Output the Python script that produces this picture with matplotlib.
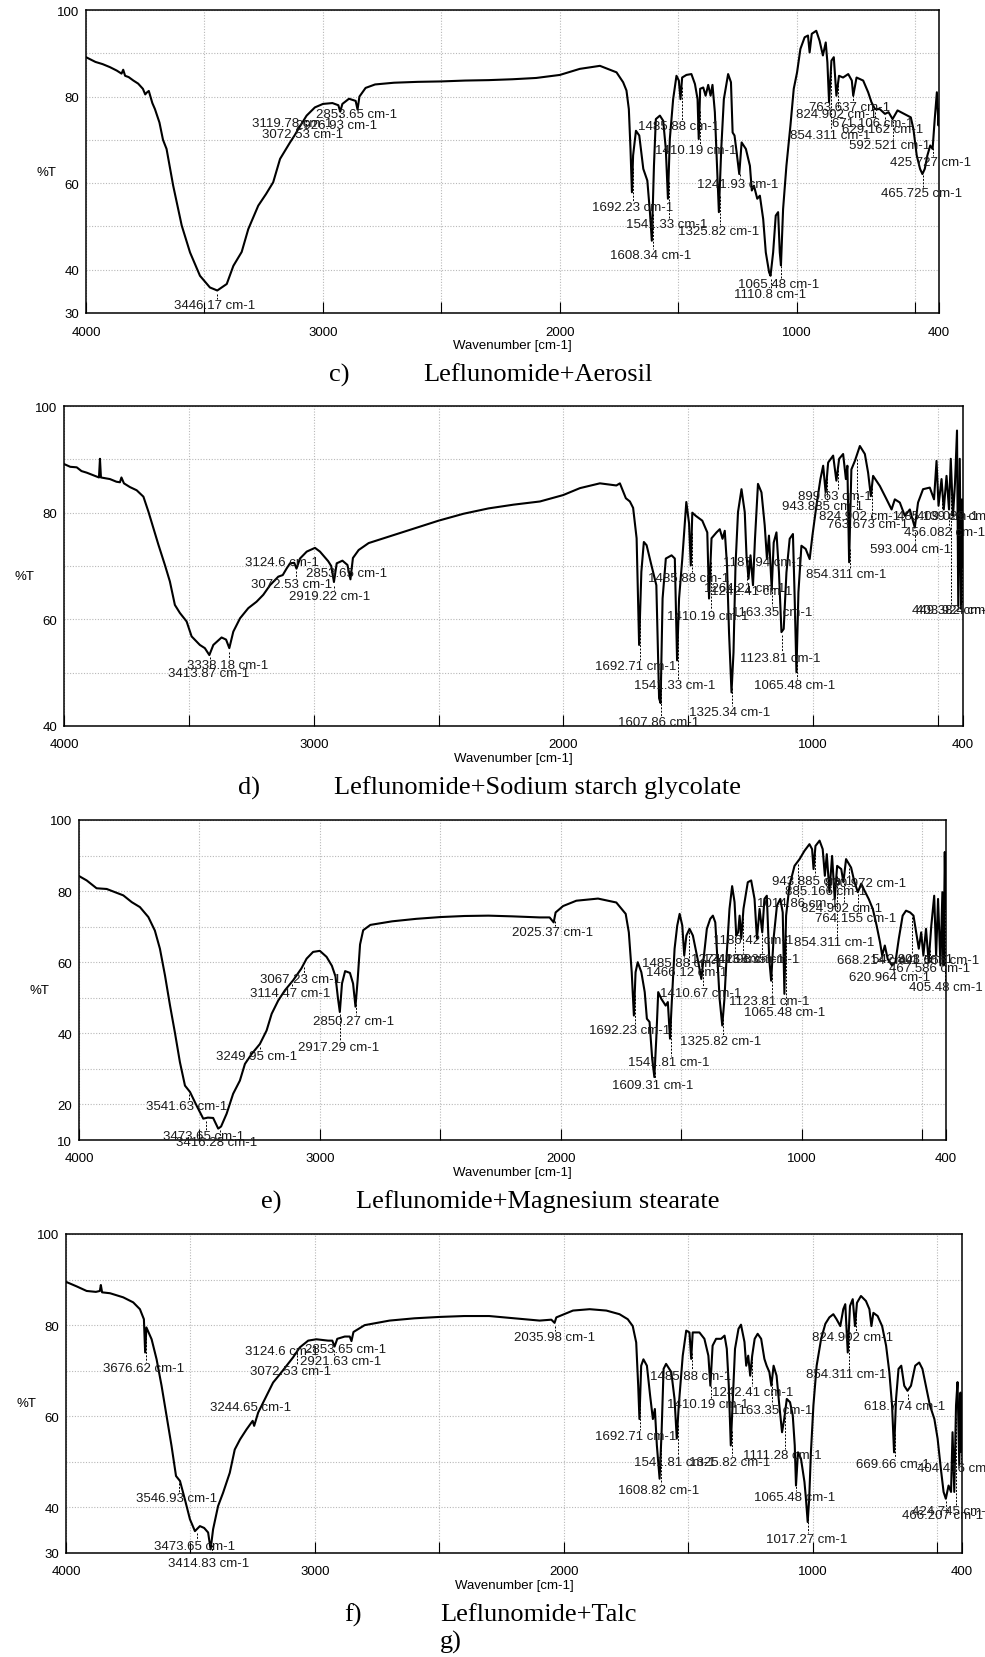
import numpy as np
import matplotlib
matplotlib.use("Agg")
import matplotlib.pyplot as plt
from matplotlib.transforms import Bbox, TransformedBbox

plt.rcParams['font.family'] = ['Liberation Sans', 'DejaVu Sans']

# ---------------- spectra (wavenumber, %T) ----------------
ir_c = [(4000, 89.1), (3960, 88.0), (3930, 87.5), (3899, 86.8), (3870, 86.0), (3850, 85.3), (3843, 86.2), (3835, 84.8),
        (3820, 84.5), (3800, 83.7), (3780, 83.0), (3760, 81.8), (3750, 80.5), (3744, 80.9), (3735, 81.3), (3720, 78.5),
        (3709, 77.1), (3690, 74.0), (3675, 70.0), (3660, 67.9), (3632, 59.4), (3596, 50.2), (3561, 44.0), (3519, 38.6),
        (3477, 35.9), (3446, 35.2), (3406, 36.7), (3378, 40.9), (3343, 44.1), (3315, 49.4), (3273, 54.8), (3240, 57.5),
        (3210, 60.2), (3181, 65.6), (3139, 69.4), (3120, 71.0), (3104, 72.5), (3069, 75.6), (3034, 77.5), (3000, 78.3),
        (2960, 78.5), (2935, 78.0), (2927, 76.5), (2918, 78.3), (2890, 79.5), (2862, 79.0), (2854, 77.0), (2846, 80.0),
        (2820, 82.0), (2780, 82.8), (2700, 83.2), (2600, 83.4), (2500, 83.5), (2400, 83.7), (2300, 83.8), (2200, 84.0),
        (2100, 84.3), (2000, 85.0), (1916, 86.4), (1831, 87.1), (1761, 85.6), (1733, 83.3), (1719, 81.4), (1709, 77.1),
        (1702, 67.9), (1696, 57.9), (1691, 66.4), (1679, 72.1), (1665, 71.0), (1648, 63.3), (1631, 60.6), (1620, 53.3),
        (1612, 46.7), (1603, 64.0), (1595, 74.8), (1578, 75.6), (1564, 74.4), (1553, 67.9), (1544, 56.4), (1536, 70.2),
        (1522, 79.4), (1508, 84.8), (1498, 83.7), (1491, 79.4), (1484, 84.4), (1466, 85.0), (1445, 85.2), (1430, 82.9),
        (1419, 79.4), (1414, 70.2), (1408, 81.8), (1395, 82.1), (1385, 80.2), (1374, 82.7), (1364, 80.2), (1356, 82.7),
        (1346, 76.4), (1339, 67.1), (1329, 53.3), (1319, 67.9), (1308, 79.4), (1290, 85.2), (1278, 83.3), (1271, 71.7),
        (1263, 71.0), (1254, 67.1), (1243, 62.1), (1233, 69.4), (1215, 67.9), (1198, 64.0), (1190, 58.3), (1181, 59.4),
        (1167, 56.4), (1156, 57.1), (1142, 51.7), (1131, 44.0), (1117, 39.4), (1111, 38.6), (1100, 44.0), (1089, 52.5),
        (1079, 53.3), (1072, 44.0), (1067, 41.0), (1058, 54.0), (1044, 64.0), (1027, 73.3), (1013, 81.8), (999, 85.6),
        (985, 91.0), (967, 93.7), (953, 94.1), (946, 90.2), (937, 94.5), (918, 95.2), (904, 92.9), (890, 89.5),
        (878, 92.5), (871, 87.9), (864, 78.7), (854, 88.3), (844, 89.1), (833, 80.2), (822, 84.8), (805, 84.4),
        (783, 85.2), (768, 83.7), (762, 80.2), (748, 84.4), (720, 83.7), (699, 81.0), (685, 78.7), (670, 77.1),
        (650, 77.1), (628, 76.0), (613, 76.4), (596, 74.8), (575, 76.8), (547, 76.0), (519, 75.2), (508, 72.5),
        (494, 66.4), (480, 63.3), (470, 62.1), (460, 63.3), (449, 66.4), (437, 68.7), (427, 67.9), (418, 74.8),
        (409, 81.0), (402, 73.3), (400, 77.1)]

ir_d = [(3999, 89.1), (3975, 88.6), (3949, 88.5), (3930, 87.8), (3909, 87.5), (3876, 86.9), (3860, 86.6), (3856, 90.1),
        (3852, 86.6), (3816, 86.3), (3790, 85.8), (3776, 85.7), (3770, 86.6), (3760, 85.5), (3736, 84.8), (3709, 84.2),
        (3682, 83.0), (3662, 80.2), (3642, 77.1), (3622, 74.0), (3596, 70.2), (3576, 67.1), (3556, 62.7), (3536, 61.2),
        (3509, 59.6), (3489, 56.8), (3456, 55.2), (3436, 54.6), (3418, 53.3), (3402, 55.2), (3369, 56.6), (3351, 56.2),
        (3338, 54.6), (3322, 57.7), (3295, 60.2), (3262, 62.1), (3229, 63.3), (3202, 64.6), (3175, 66.4), (3142, 68.0),
        (3124, 68.3), (3109, 69.5), (3095, 70.5), (3078, 70.6), (3069, 69.5), (3055, 71.4), (3028, 72.7), (2995, 73.4),
        (2975, 72.7), (2942, 70.9), (2930, 70.0), (2919, 67.0), (2908, 70.5), (2885, 71.0), (2865, 70.2), (2853, 67.5),
        (2843, 71.5), (2820, 73.0), (2780, 74.3), (2700, 75.5), (2600, 77.0), (2500, 78.5), (2400, 79.8), (2300, 80.8),
        (2200, 81.5), (2094, 82.1), (2001, 83.3), (1934, 84.6), (1854, 85.5), (1788, 85.1), (1774, 85.5), (1750, 82.7),
        (1734, 82.1), (1721, 80.9), (1707, 75.2), (1697, 55.2), (1688, 68.9), (1678, 74.5), (1667, 73.9), (1648, 70.2),
        (1628, 66.4), (1617, 45.2), (1611, 44.3), (1603, 63.9), (1590, 71.4), (1567, 72.0), (1554, 71.4), (1545, 52.3),
        (1537, 63.9), (1524, 71.4), (1508, 82.0), (1497, 78.0), (1490, 70.1), (1484, 80.0), (1470, 79.4), (1444, 78.5),
        (1424, 76.3), (1417, 63.9), (1407, 75.2), (1387, 76.3), (1374, 76.9), (1363, 75.1), (1354, 76.6), (1345, 70.1),
        (1337, 57.6), (1327, 46.3), (1319, 53.8), (1311, 70.1), (1301, 80.1), (1287, 84.4), (1274, 80.1), (1267, 72.0),
        (1259, 67.6), (1251, 72.0), (1241, 66.4), (1233, 75.1), (1221, 85.4), (1207, 83.8), (1194, 77.6), (1185, 71.3),
        (1177, 75.7), (1166, 65.7), (1158, 74.4), (1147, 76.3), (1137, 68.8), (1127, 57.6), (1118, 58.2), (1107, 68.8),
        (1094, 75.1), (1081, 76.0), (1074, 63.9), (1067, 50.1), (1059, 65.1), (1047, 73.8), (1030, 73.2), (1014, 71.3),
        (1003, 75.7), (987, 81.3), (971, 86.3), (960, 88.8), (950, 83.8), (940, 89.4), (920, 90.7), (907, 86.0),
        (896, 90.1), (880, 91.0), (869, 86.3), (863, 88.8), (856, 70.7), (847, 88.1), (833, 89.7), (813, 92.5),
        (793, 91.0), (780, 87.5), (769, 83.1), (760, 86.9), (733, 85.0), (706, 82.5), (686, 80.6), (673, 82.5),
        (653, 81.9), (633, 79.4), (613, 80.6), (593, 77.2), (580, 81.9), (560, 84.4), (533, 84.7), (516, 82.5),
        (506, 89.7), (498, 81.3), (486, 86.3), (477, 80.6), (466, 86.9), (456, 80.6), (449, 90.1), (440, 79.4),
        (432, 85.6), (424, 95.4), (419, 62.5), (413, 90.1), (408, 62.0), (404, 82.5), (400, 70.0)]

ir_e = [(3999, 84.2), (3968, 83.0), (3927, 80.8), (3885, 80.6), (3851, 79.7), (3816, 78.8), (3781, 76.9), (3747, 75.5),
        (3712, 72.7), (3685, 68.9), (3664, 63.8), (3643, 56.3), (3622, 47.8), (3602, 40.3), (3581, 31.9), (3560, 25.3),
        (3539, 23.5), (3512, 19.7), (3484, 16.0), (3465, 16.3), (3443, 16.2), (3422, 13.2), (3410, 13.8), (3387, 17.4),
        (3360, 23.0), (3332, 26.7), (3311, 31.4), (3283, 34.2), (3249, 37.0), (3221, 40.8), (3200, 45.5), (3173, 49.2),
        (3145, 52.1), (3111, 54.9), (3077, 58.2), (3055, 61.0), (3028, 62.9), (3000, 63.2), (2972, 61.5), (2950, 59.0),
        (2935, 56.0), (2925, 50.0), (2917, 46.0), (2908, 54.0), (2895, 57.5), (2875, 57.0), (2862, 54.0), (2852, 47.5),
        (2843, 55.0), (2833, 65.0), (2820, 69.0), (2790, 70.5), (2700, 71.5), (2600, 72.2), (2500, 72.7), (2400, 73.0),
        (2300, 73.1), (2200, 72.9), (2087, 72.6), (2046, 72.6), (2029, 71.2), (2021, 74.0), (1990, 75.8), (1935, 77.3),
        (1845, 77.9), (1769, 76.8), (1730, 73.6), (1717, 68.4), (1705, 57.2), (1696, 45.0), (1689, 57.2), (1680, 60.0),
        (1665, 57.2), (1651, 51.6), (1642, 44.1), (1631, 43.2), (1620, 32.9), (1611, 27.7), (1603, 38.5), (1595, 51.6),
        (1582, 49.7), (1564, 47.8), (1555, 48.8), (1546, 38.5), (1538, 49.7), (1527, 63.8), (1516, 70.3), (1506, 73.6),
        (1495, 70.3), (1487, 61.9), (1478, 67.5), (1465, 69.4), (1451, 67.5), (1437, 62.8), (1426, 59.1), (1416, 55.3),
        (1405, 61.9), (1393, 69.4), (1379, 72.2), (1368, 73.1), (1358, 71.2), (1350, 61.9), (1340, 49.7), (1329, 42.2),
        (1320, 49.7), (1310, 62.8), (1299, 75.0), (1288, 81.4), (1278, 76.9), (1271, 67.5), (1263, 68.4), (1257, 73.1),
        (1250, 66.6), (1241, 75.0), (1223, 82.5), (1209, 83.0), (1195, 77.8), (1185, 66.6), (1174, 75.0), (1163, 68.4),
        (1154, 77.8), (1144, 78.7), (1134, 60.9), (1126, 54.8), (1116, 66.6), (1102, 75.9), (1088, 77.8), (1078, 74.0),
        (1071, 51.1), (1064, 73.1), (1050, 81.5), (1029, 87.1), (1008, 89.0), (988, 91.3), (967, 93.2), (956, 91.8),
        (950, 86.2), (942, 92.7), (925, 94.2), (912, 91.8), (903, 84.3), (895, 90.4), (884, 79.7), (873, 89.9),
        (862, 77.8), (852, 87.1), (835, 86.2), (826, 82.5), (815, 89.0), (794, 86.6), (780, 82.5), (766, 79.7),
        (752, 82.1), (739, 80.2), (721, 77.8), (704, 75.0), (688, 70.3), (674, 65.6), (665, 61.9), (654, 64.7),
        (642, 60.9), (624, 59.1), (610, 60.0), (596, 66.6), (580, 73.1), (566, 74.5), (549, 74.0), (535, 73.1),
        (524, 68.4), (513, 63.8), (503, 68.4), (494, 61.9), (483, 69.4), (472, 60.0), (461, 70.3), (449, 78.7),
        (441, 61.9), (433, 77.8), (423, 59.1), (415, 79.7), (410, 59.1), (405, 91.0), (402, 75.0)]

ir_f = [(4000, 89.5), (3957, 88.5), (3917, 87.5), (3880, 87.3), (3864, 87.5), (3860, 88.8), (3855, 87.2), (3823, 87.0),
        (3770, 86.1), (3730, 85.0), (3703, 83.5), (3687, 81.3), (3682, 74.0), (3677, 79.5), (3656, 76.9), (3636, 72.5),
        (3616, 66.7), (3596, 60.1), (3576, 53.5), (3558, 46.9), (3542, 45.8), (3522, 41.7), (3502, 37.4), (3482, 34.8),
        (3462, 35.9), (3445, 35.5), (3429, 34.5), (3419, 30.8), (3409, 35.2), (3389, 40.3), (3369, 43.2), (3342, 47.6),
        (3322, 52.7), (3301, 54.9), (3275, 57.1), (3250, 59.0), (3244, 57.9), (3228, 60.8), (3208, 63.0), (3188, 65.2),
        (3168, 67.4), (3141, 69.2), (3114, 71.1), (3088, 72.9), (3061, 75.1), (3027, 76.6), (2994, 76.9), (2947, 76.6),
        (2930, 76.6), (2921, 75.3), (2910, 77.0), (2880, 77.5), (2860, 77.5), (2853, 76.5), (2845, 78.5), (2800, 80.0),
        (2700, 81.0), (2600, 81.5), (2500, 81.8), (2400, 82.0), (2300, 82.0), (2200, 81.5), (2097, 81.0), (2050, 81.2),
        (2037, 80.5), (2030, 81.7), (1963, 83.2), (1896, 83.5), (1829, 83.2), (1776, 82.4), (1743, 81.3), (1723, 79.8),
        (1709, 76.2), (1701, 66.7), (1696, 59.4), (1689, 71.1), (1680, 72.5), (1666, 71.1), (1653, 64.5), (1642, 59.4),
        (1634, 61.6), (1626, 53.6), (1615, 46.3), (1607, 56.5), (1599, 70.4), (1589, 71.5), (1568, 69.7), (1555, 63.8),
        (1546, 55.1), (1538, 62.4), (1522, 73.3), (1508, 78.8), (1495, 78.4), (1488, 72.6), (1482, 78.4), (1455, 78.4),
        (1435, 77.0), (1419, 73.3), (1411, 66.7), (1402, 75.5), (1388, 77.0), (1368, 77.0), (1354, 77.7), (1345, 74.8),
        (1337, 66.7), (1329, 53.6), (1321, 63.8), (1312, 74.8), (1298, 79.2), (1288, 80.1), (1274, 76.3), (1267, 71.1),
        (1259, 73.3), (1251, 68.9), (1243, 73.3), (1233, 77.0), (1221, 78.1), (1207, 77.0), (1194, 72.6), (1185, 71.1),
        (1174, 69.7), (1166, 66.7), (1157, 71.1), (1145, 68.9), (1134, 62.4), (1123, 56.5), (1114, 59.5), (1104, 63.8),
        (1091, 63.1), (1080, 60.2), (1072, 53.6), (1067, 44.8), (1059, 52.1), (1047, 50.7), (1033, 45.6), (1027, 41.9),
        (1020, 36.8), (1014, 41.9), (1007, 52.1), (997, 62.4), (984, 71.1), (966, 77.0), (949, 80.3), (933, 81.7),
        (917, 82.4), (904, 81.3), (889, 79.8), (877, 83.5), (869, 84.6), (859, 74.0), (850, 84.2), (839, 85.7),
        (830, 79.8), (822, 84.9), (806, 86.4), (786, 85.3), (772, 83.5), (764, 79.8), (756, 82.7), (739, 82.0),
        (721, 79.8), (705, 75.5), (692, 69.7), (681, 62.4), (673, 52.1), (665, 63.8), (655, 70.4), (644, 71.1),
        (632, 66.7), (619, 65.6), (605, 66.7), (588, 71.1), (572, 71.8), (559, 70.4), (545, 66.7), (529, 62.4),
        (511, 59.4), (498, 55.1), (485, 48.5), (474, 43.4), (465, 41.9), (454, 44.8), (444, 43.4), (438, 56.5),
        (431, 43.4), (424, 62.4), (418, 67.5), (411, 49.3), (406, 65.2), (402, 52.1), (400, 60.0)]

# peak labels: (text, label centre wavenumber, label centre %T)
peaks_c = [("3446.17 cm-1", 3456, 31.9), ("3119.78 cm-1", 3131, 73.9), ("2926.93 cm-1", 2942, 73.5),
           ("2853.65 cm-1", 2857, 76.0), ("3072.53 cm-1", 3084, 71.4), ("1485.88 cm-1", 1498, 73.3),
           ("1410.19 cm-1", 1428, 67.7), ("1692.23 cm-1", 1695, 54.6), ("1541.33 cm-1", 1550, 50.6),
           ("1325.82 cm-1", 1332, 48.9), ("1608.34 cm-1", 1617, 43.4), ("1241.93 cm-1", 1250, 59.8),
           ("1065.48 cm-1", 1076, 36.7), ("1110.8 cm-1", 1114, 34.4), ("824.902 cm-1", 833, 76.0),
           ("763.637 cm-1", 776, 77.5), ("854.311 cm-1", 859, 71.1), ("671.106 cm-1", 678, 74.0),
           ("629.162 cm-1", 636, 72.5), ("592.521 cm-1", 608, 68.7), ("425.727 cm-1", 435, 64.8),
           ("465.725 cm-1", 473, 57.7)]

peaks_d = [("3124.6 cm-1", 3129, 70.7), ("2853.65 cm-1", 2867, 68.7), ("3072.53 cm-1", 3088, 66.6),
           ("2919.22 cm-1", 2935, 64.4), ("3338.18 cm-1", 3346, 51.5), ("3413.87 cm-1", 3422, 49.9),
           ("1692.71 cm-1", 1711, 51.3), ("1541.33 cm-1", 1554, 47.6), ("1607.86 cm-1", 1619, 40.8),
           ("1325.34 cm-1", 1335, 42.6), ("1485.88 cm-1", 1497, 67.7), ("1410.19 cm-1", 1421, 60.7),
           ("1264.21 cm-1", 1276, 65.8), ("1242.41 cm-1", 1245, 65.4), ("1163.35 cm-1", 1165, 61.3),
           ("1187.94 cm-1", 1200, 70.7), ("1123.81 cm-1", 1132, 52.7), ("1065.48 cm-1", 1074, 47.7),
           ("899.63 cm-1", 915, 83.1), ("943.885 cm-1", 963, 81.2), ("824.902 cm-1", 813, 79.4),
           ("763.673 cm-1", 781, 77.9), ("854.311 cm-1", 867, 68.5), ("593.004 cm-1", 610, 73.2),
           ("456.082 cm-1", 473, 76.4), ("485.139 cm-1", 500, 79.3), ("409.029 cm-1", 420, 79.3),
           ("449.382 cm-1", 440, 61.8), ("403.924 cm-1", 425, 61.8)]

peaks_e = [("3067.23 cm-1", 3079, 55.3), ("3114.47 cm-1", 3124, 51.3), ("2850.27 cm-1", 2861, 43.6),
           ("2917.29 cm-1", 2920, 36.2), ("3249.95 cm-1", 3261, 33.7), ("3541.63 cm-1", 3552, 19.6),
           ("3473.65 cm-1", 3481, 11.1), ("3416.28 cm-1", 3427, 9.4), ("2025.37 cm-1", 2035, 68.6),
           ("1692.23 cm-1", 1714, 41.0), ("1485.88 cm-1", 1492, 59.8), ("1466.12 cm-1", 1478, 57.2),
           ("1410.67 cm-1", 1420, 51.3), ("1325.82 cm-1", 1335, 37.9), ("1541.81 cm-1", 1552, 32.0),
           ("1609.31 cm-1", 1617, 25.5), ("1186.42 cm-1", 1202, 66.3), ("1274.13 cm-1", 1290, 60.9),
           ("1242.98 cm-1", 1240, 60.9), ("1163.35 cm-1", 1175, 60.9), ("1123.81 cm-1", 1133, 49.2),
           ("1065.48 cm-1", 1072, 45.9), ("1014.86 cm-1", 1014, 76.7), ("943.885 cm-1", 956, 82.9),
           ("885.166 cm-1", 898, 80.1), ("800.972 cm-1", 735, 82.3), ("824.902 cm-1", 835, 75.2),
           ("764.155 cm-1", 777, 72.4), ("854.311 cm-1", 863, 65.6), ("668.214 cm-1", 683, 60.6),
           ("620.964 cm-1", 635, 55.8), ("542.803 cm-1", 540, 61.0), ("467.586 cm-1", 470, 58.5),
           ("441.556 cm-1", 432, 60.5), ("405.48 cm-1", 400, 52.9)]

peaks_f = [("3676.62 cm-1", 3688, 70.6), ("3124.6 cm-1", 3134, 74.4), ("2853.65 cm-1", 2876, 74.8),
           ("2921.63 cm-1", 2896, 72.1), ("3072.53 cm-1", 3098, 70.0), ("3244.65 cm-1", 3257, 62.0),
           ("3546.93 cm-1", 3557, 42.0), ("3473.65 cm-1", 3485, 31.6), ("3414.83 cm-1", 3426, 27.7),
           ("2035.98 cm-1", 2037, 77.5), ("1692.71 cm-1", 1710, 55.7), ("1541.81 cm-1", 1555, 49.9),
           ("1325.82 cm-1", 1332, 49.9), ("1608.82 cm-1", 1617, 43.9), ("1485.88 cm-1", 1492, 68.8),
           ("1410.19 cm-1", 1423, 62.7), ("1242.41 cm-1", 1241, 65.4), ("1163.35 cm-1", 1163, 61.4),
           ("1111.28 cm-1", 1120, 51.5), ("1065.48 cm-1", 1073, 42.2), ("1017.27 cm-1", 1025, 33.1),
           ("824.902 cm-1", 839, 77.5), ("854.311 cm-1", 865, 69.3), ("618.774 cm-1", 632, 62.3),
           ("669.66 cm-1", 679, 49.5), ("404.416 cm-1", 418, 48.6), ("424.745 cm-1", 438, 39.3),
           ("466.207 cm-1", 478, 38.3)]

letters = ["c)", "d)", "e)", "f)"]
captions = ["Leflunomide+Aerosil", "Leflunomide+Sodium starch glycolate",
            "Leflunomide+Magnesium stearate", "Leflunomide+Talc"]
ylims = [(30, 100), (40, 100), (10, 100), (30, 100)]
ylabels = [[30, 40, 60, 80, 100], [40, 60, 80, 100], [10, 20, 40, 60, 80, 100], [30, 40, 60, 80, 100]]

# ---------------- layout (pixels) ----------------
W, H = 985, 1658
boxes = [(86, 11, 939, 314), (64, 407, 963, 727), (79, 821, 946, 1141), (66, 1235, 962, 1554)]
letter_x = [339, 249, 271, 353]
FS = 9.5

fig = plt.figure(figsize=(W / 100, H / 100), dpi=100)


def fx(px):
    return px / W


def fy(py):
    return 1 - py / H


def panel(box, spec, ylim, yt, peaks):
    left, top, right, bottom = box
    ax = fig.add_axes([fx(left), fy(bottom), (right - left) / W, (bottom - top) / H])
    wn, t = np.array(spec, dtype=float).T
    ax.plot(wn, t, color='black', lw=1.5, zorder=3)
    ax.set_xlim(4000, 400)
    ax.set_ylim(*ylim)
    ax.set_xticks([4000, 3000, 2000, 1000, 400])
    ax.set_xticks([3500, 2500, 1500, 500], minor=True)
    ax.set_yticks(yt)
    ax.set_yticks(np.arange(ylim[0], ylim[1] + 1, 10), minor=True)
    ax.grid(True, which='both', color='#b8b8b8', ls=(0, (1, 1.5)), lw=0.8)
    ax.tick_params(axis='x', which='both', direction='in', length=8, width=0.8,
                   pad=9, labelsize=FS, colors='black')
    ax.tick_params(axis='y', which='both', length=0, pad=5, labelsize=FS)
    for s in ax.spines.values():
        s.set_linewidth(1.1)

    # peak labels with short dashed leaders, clipped a little right of the frame
    px_per_t = (bottom - top) / (ylim[1] - ylim[0])
    half = 6.0 / px_per_t
    clip = TransformedBbox(Bbox([[0, 0], [fx(right + 18), 1]]), fig.transFigure)
    order = np.argsort(wn)
    for text, lx, ly in peaks:
        pk = float(text.split()[0])
        yc = np.interp(pk, wn[order], t[order])
        txt = ax.text(lx, ly, text, ha='center', va='center', fontsize=FS, color='#1a1a1a', zorder=4)
        txt.set_clip_path(None)
        txt.set_clip_box(clip)
        if yc - 0.8 > ly + half:
            ax.plot([pk, pk], [yc - 0.8, ly + half], color='black', lw=0.7,
                    ls=(0, (2, 1.5)), zorder=2)

    fig.text(fx(left - 40), fy((top + bottom) / 2 + 10), "%T", ha='center', va='center', fontsize=FS)
    fig.text(fx((left + right) / 2), fy(bottom + 32), "Wavenumber [cm-1]", ha='center', va='center',
             fontsize=FS)
    return ax


specs = [ir_c, ir_d, ir_e, ir_f]
peak_sets = [peaks_c, peaks_d, peaks_e, peaks_f]
for i in range(4):
    panel(boxes[i], specs[i], ylims[i], ylabels[i], peak_sets[i])
    yb = boxes[i][3] + 61
    fig.text(fx(letter_x[i]), fy(yb), letters[i], ha='center', va='center',
             fontsize=19, family='Liberation Serif')
    fig.text(fx(538), fy(yb), captions[i], ha='center', va='center',
             fontsize=19, family='Liberation Serif')

fig.text(fx(451), fy(1642), "g)", ha='center', va='center', fontsize=19, family='Liberation Serif')

fig.savefig("out.png", dpi=100)
